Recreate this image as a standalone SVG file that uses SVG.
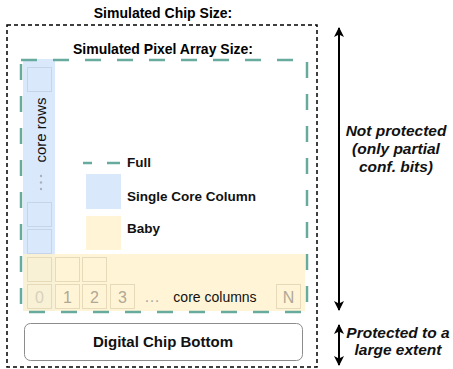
<svg xmlns="http://www.w3.org/2000/svg" width="453" height="369" viewBox="0 0 453 369">
  <style>
    text { font-family: "Liberation Sans", Arial, sans-serif; }
    .title { font-size: 14px; font-weight: bold; fill: #000; text-anchor: middle; }
    .legend { font-size: 13.5px; font-weight: bold; fill: #111; }
    .note { font-size: 15.5px; font-weight: bold; font-style: italic; fill: #111; text-anchor: middle; }
    .cell-b { fill: none; stroke: #c6d4ea; stroke-width: 1; }
    .cell-y { fill: none; stroke: #e6dab8; stroke-width: 1; }
    .digit { font-size: 16px; fill: #b0a895; text-anchor: middle; }
    .full { fill: none; stroke: #67ab9f; stroke-width: 2.5; stroke-dasharray: 16 16; }
    .arrow { stroke: #000; stroke-width: 2; fill: none; marker-start: url(#head); marker-end: url(#head); }
  </style>
  <defs>
    <marker id="head" viewBox="0 0 10 10" refX="9" refY="5" markerWidth="5" markerHeight="5" orient="auto-start-reverse" markerUnits="strokeWidth">
      <path d="M0,0 L10,5 L0,10 L2.5,5 Z" fill="#000"/>
    </marker>
  </defs>
  <rect width="453" height="369" fill="#fff"/>

  <!-- simulated chip outline -->
  <g id="chip">
    <rect x="7" y="25" width="310" height="342" fill="none" stroke="#000" stroke-width="1.5" stroke-dasharray="4 3"/>
    <text class="title" x="163" y="18">Simulated Chip Size:</text>
  </g>

  <!-- single core column -->
  <g id="core-column">
    <rect x="23" y="59" width="32" height="252" fill="#dae8fc"/>
    <rect class="cell-b" x="27.5" y="67.5" width="24" height="24"/>
    <text x="0" y="0" transform="translate(46,130) rotate(-90)" font-size="15" fill="#111" text-anchor="middle">core rows</text>
    <circle cx="41" cy="176" r="1.2" fill="#a8b0bd"/>
    <circle cx="41" cy="182.5" r="1.2" fill="#a8b0bd"/>
    <circle cx="41" cy="189" r="1.2" fill="#a8b0bd"/>
    <rect class="cell-b" x="27.5" y="202.5" width="24" height="24"/>
    <rect class="cell-b" x="27.5" y="229.5" width="24" height="24"/>
  </g>

  <!-- baby array band -->
  <g id="baby">
    <rect x="23" y="254" width="282" height="57" fill="#fff2cc" fill-opacity="0.8"/>
    <rect class="cell-y" x="27.5" y="257.5" width="24" height="24"/>
    <rect class="cell-y" x="55.5" y="257.5" width="24" height="24"/>
    <rect class="cell-y" x="82.5" y="257.5" width="24" height="24"/>
    <rect class="cell-y" x="27.5" y="284.5" width="24" height="24"/>
    <rect class="cell-y" x="55.5" y="284.5" width="24" height="24"/>
    <rect class="cell-y" x="82.5" y="284.5" width="24" height="24"/>
    <rect class="cell-y" x="110.5" y="284.5" width="24" height="24"/>
    <rect class="cell-y" x="276.5" y="284.5" width="24" height="24"/>
    <text class="digit" x="39.5" y="302.5" style="fill:#d8d0bd">0</text>
    <text class="digit" x="67.5" y="302.5">1</text>
    <text class="digit" x="94.5" y="302.5">2</text>
    <text class="digit" x="122.5" y="302.5">3</text>
    <text class="digit" x="152" y="302" style="fill:#a8a8a8">…</text>
    <text x="215" y="302" font-size="14" fill="#111" text-anchor="middle">core columns</text>
    <text class="digit" x="288.5" y="302.5">N</text>
  </g>

  <!-- full pixel array outline -->
  <g id="pixel-array">
    <rect class="full" x="21" y="60" width="286" height="252"/>
    <text class="title" x="163" y="54">Simulated Pixel Array Size:</text>
  </g>

  <!-- legend -->
  <g id="legend">
    <line x1="83" y1="163" x2="92" y2="163" stroke="#67ab9f" stroke-width="2.5"/>
    <line x1="107" y1="163" x2="120" y2="163" stroke="#67ab9f" stroke-width="2.5"/>
    <text class="legend" x="127" y="167">Full</text>
    <rect x="86" y="174" width="35" height="35" fill="#dae8fc"/>
    <text class="legend" x="127" y="201">Single Core Column</text>
    <rect x="86" y="216" width="35" height="34" fill="#fff2cc" fill-opacity="0.8"/>
    <text class="legend" x="127" y="233">Baby</text>
  </g>

  <!-- digital chip bottom -->
  <g id="digital-bottom">
    <rect x="24.5" y="323.5" width="278" height="37" rx="6" fill="#fff" stroke="#8c8c8c" stroke-width="1"/>
    <text x="163" y="347" font-size="15" font-weight="bold" fill="#111" text-anchor="middle">Digital Chip Bottom</text>
  </g>

  <!-- extent arrows -->
  <g id="connectors">
    <line class="arrow" x1="339" y1="28" x2="339" y2="310"/>
    <line class="arrow" x1="339" y1="325" x2="339" y2="365"/>
  </g>

  <g id="protection-notes">
    <text class="note" x="396" y="136">Not protected</text>
    <text class="note" x="396" y="154">(only partial</text>
    <text class="note" x="396" y="172">conf. bits)</text>
    <text class="note" x="398" y="338">Protected to a</text>
    <text class="note" x="398" y="355">large extent</text>
  </g>
</svg>
